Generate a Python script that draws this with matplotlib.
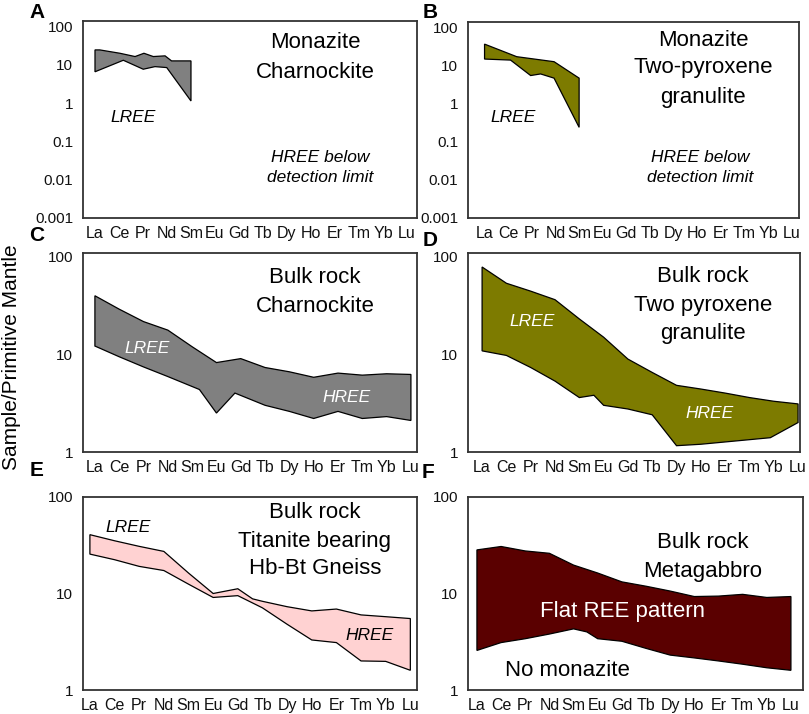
import matplotlib
matplotlib.use('Agg')
import matplotlib.pyplot as plt

plt.rcParams['font.family'] = ['Liberation Sans', 'DejaVu Sans']

W, H = 809, 714

elements = ['La', 'Ce', 'Pr', 'Nd', 'Sm', 'Eu', 'Gd', 'Tb', 'Dy', 'Ho', 'Er', 'Tm', 'Yb', 'Lu']

# outlines: x in element index units (0 = La), y = sample/primitive mantle
a_up_x = [0, 0.2, 1.04, 1.67, 2.04, 2.43, 2.92, 3.19, 4]
a_up_y = [24.6, 24.6, 20.1, 16.5, 20.1, 16.5, 17.2, 12.7, 12.7]
a_lo_x = [0, 1.18, 2.01, 2.5, 2.99, 4]
a_lo_y = [6.6, 13.2, 7.7, 9.0, 8.5, 1.14]

b_up_x = [0, 1.36, 2.94, 4]
b_up_y = [36.8, 17.2, 12.7, 4.7]
b_lo_x = [0, 1.1, 1.95, 2.37, 2.94, 4]
b_lo_y = [14.9, 14.0, 5.5, 6.06, 4.7, 0.24]

c_up_x = list(range(14))
c_up_y = [39.5, 28.8, 21.5, 17.6, 11.9, 8.2, 9.0, 7.3, 6.6, 5.8, 6.4, 6.1, 6.3, 6.2]
c_lo_x = [0, 1, 2, 3, 4.3, 5, 5.76, 7, 8, 9, 10, 11, 12, 13]
c_lo_y = [12.1, 9.4, 7.4, 5.9, 4.35, 2.5, 4.0, 3.0, 2.6, 2.2, 2.6, 2.2, 2.3, 2.1]

d_up_x = list(range(14))
d_up_y = [77.7, 53, 44, 36, 22.9, 14.9, 8.9, 6.5, 4.8, 4.4, 4.0, 3.6, 3.3, 3.1]
d_lo_x = [0, 1, 2, 3, 4, 4.6, 5, 6, 7, 8, 9, 11.86, 13]
d_lo_y = [10.8, 9.7, 7.3, 5.3, 3.6, 3.8, 3.0, 2.75, 2.4, 1.16, 1.2, 1.4, 2.0]

e_up_x = [0, 1, 2, 3, 4, 5, 6, 6.6, 7, 8, 9, 10, 11, 12, 13]
e_up_y = [40.7, 35.2, 30.8, 27.3, 16.3, 10.0, 11.2, 8.8, 8.3, 7.3, 6.6, 6.9, 6.0, 5.75, 5.5]
e_lo_x = list(range(14))
e_lo_y = [25.6, 22.4, 19.1, 17.3, 12.5, 9.1, 9.5, 7.1, 4.8, 3.3, 3.1, 2.0, 1.98, 1.6]

f_up_x = list(range(14))
f_up_y = [28.3, 30.7, 27.6, 26.1, 19.7, 16.3, 13.2, 11.9, 10.6, 9.3, 9.4, 9.8, 9.1, 9.3]
f_lo_x = [0, 1, 2, 3, 4, 4.55, 5, 6, 7, 8, 9, 10, 11, 12, 13]
f_lo_y = [2.57, 3.1, 3.4, 3.8, 4.3, 4.0, 3.4, 3.2, 2.7, 2.3, 2.15, 2.0, 1.85, 1.7, 1.6]

panels = [
    # letter, letter px, box px (l, r, t, b), xlim, ylim, ticks, outline, colour
    ('A', (37, 12), (83, 417, 21, 218), (-0.5, 13.42), (0.001, 140), [0.001, 0.01, 0.1, 1, 10, 100],
     (a_up_x, a_up_y, a_lo_x, a_lo_y), '#808080'),
    ('B', (430, 12), (468, 799, 22, 218), (-0.7, 13.3), (0.001, 140), [0.001, 0.01, 0.1, 1, 10, 100],
     (b_up_x, b_up_y, b_lo_x, b_lo_y), '#7d7b00'),
    ('C', (37, 236), (83, 417, 253, 452), (-0.49, 13.25), (1, 108), [1, 10, 100],
     (c_up_x, c_up_y, c_lo_x, c_lo_y), '#808080'),
    ('D', (430, 240), (468, 800, 253, 452), (-0.58, 13.08), (1, 108), [1, 10, 100],
     (d_up_x, d_up_y, d_lo_x, d_lo_y), '#7d7b00'),
    ('E', (37, 470), (83, 417, 497, 690), (-0.28, 13.27), (1, 100), [1, 10, 100],
     (e_up_x, e_up_y, e_lo_x, e_lo_y), '#ffd2d2'),
    ('F', (428, 473), (468, 803, 497, 690), (-0.37, 13.5), (1, 100), [1, 10, 100],
     (f_up_x, f_up_y, f_lo_x, f_lo_y), '#5a0000'),
]

fig = plt.figure(figsize=(W / 100, H / 100), dpi=100)


def ftext(x, y, s, **kw):
    fig.text(x / W, 1 - y / H, s, ha='center', va='center', **kw)


for letter, (lx0, ly0), (l, r, t, b), xl, yl, yt, (ux, uy, lx, ly), col in panels:
    ax = fig.add_axes([l / W, 1 - b / H, (r - l) / W, (b - t) / H])
    ax.set_yscale('log')
    xs = ux + lx[::-1]
    ys = uy + ly[::-1]
    ax.fill(xs, ys, facecolor=col, edgecolor='black', linewidth=0.9)
    ax.set_xlim(*xl)
    ax.set_ylim(*yl)
    ax.set_xticks(range(14))
    ax.set_xticklabels(elements)
    ax.set_yticks(yt)
    ax.set_yticklabels(['%g' % v for v in yt])
    ax.minorticks_off()
    ax.tick_params(length=0, labelsize=11.5, pad=6, colors='#111111')
    ax.tick_params(axis='y', labelsize=11, pad=7)
    for sp in ax.spines.values():
        sp.set_color('#333333')
        sp.set_linewidth(1.3)
    ftext(lx0, ly0, letter, fontsize=15, fontweight='bold')

big = dict(fontsize=16)
it = dict(fontsize=12.5, style='italic')

ftext(315, 43, 'Monazite', **big)
ftext(315, 72, 'Charnockite', **big)
ftext(133, 117, 'LREE', **it)
ftext(320, 157, 'HREE below', **it)
ftext(320, 178, 'detection limit', **it)

ftext(703, 40, 'Monazite', **big)
ftext(703, 68, 'Two-pyroxene', **big)
ftext(703, 97, 'granulite', **big)
ftext(513, 117, 'LREE', **it)
ftext(700, 157, 'HREE below', **it)
ftext(700, 178, 'detection limit', **it)

ftext(315, 278, 'Bulk rock', **big)
ftext(315, 307, 'Charnockite', **big)
ftext(147, 348, 'LREE', color='white', **it)
ftext(347, 397, 'HREE', color='white', **it)

ftext(703, 277, 'Bulk rock', **big)
ftext(703, 305, 'Two pyroxene', **big)
ftext(703, 333, 'granulite', **big)
ftext(532, 322, 'LREE', color='white', **it)
ftext(710, 413, 'HREE', color='white', **it)

ftext(315, 513, 'Bulk rock', **big)
ftext(315, 541, 'Titanite bearing', **big)
ftext(315, 569, 'Hb-Bt Gneiss', **big)
ftext(128, 528, 'LREE', **it)
ftext(370, 635, 'HREE', **it)

ftext(703, 543, 'Bulk rock', **big)
ftext(703, 572, 'Metagabbro', **big)
ftext(622, 612, 'Flat REE pattern', color='white', **big)
ftext(567, 670, 'No monazite', **big)

ftext(12, 357, 'Sample/Primitive Mantle', fontsize=15, rotation=90)

fig.savefig('out.png', dpi=100)
